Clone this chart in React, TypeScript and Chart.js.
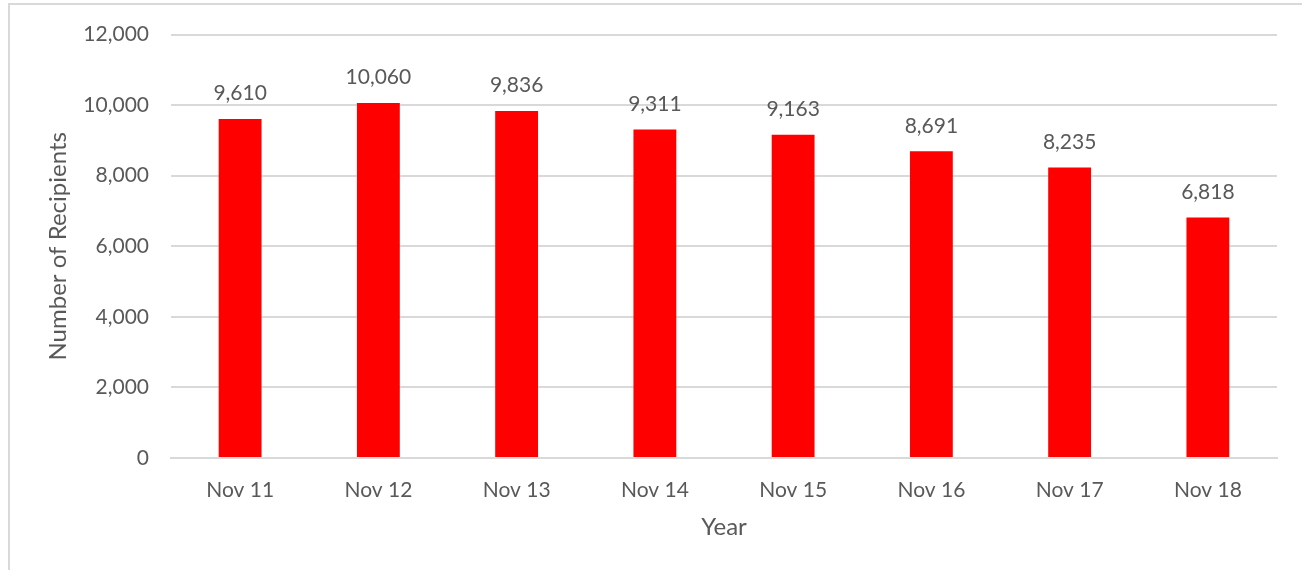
import React, { useEffect, useRef } from "react";
import { Chart, registerables } from "chart.js";

Chart.register(...registerables);

const categories = ["Nov 11", "Nov 12", "Nov 13", "Nov 14", "Nov 15", "Nov 16", "Nov 17", "Nov 18"];
const recipients = [9610, 10060, 9836, 9311, 9163, 8691, 8235, 6818];
const yTicks = [0, 2000, 4000, 6000, 8000, 10000, 12000];

const FONT = "Lato, 'Open Sans', sans-serif";
const TEXT = "#595959";
const GRID = "#d9d9d9";

const fmt = (v: number) => v.toLocaleString("en-US");

const valueLabels = {
  id: "valueLabels",
  afterDatasetsDraw(chart: any) {
    const ctx = chart.ctx;
    const meta = chart.getDatasetMeta(0);
    ctx.save();
    ctx.fillStyle = TEXT;
    ctx.font = `21px ${FONT}`;
    ctx.textAlign = "center";
    ctx.textBaseline = "bottom";
    meta.data.forEach((bar: any, i: number) => {
      ctx.fillText(fmt(recipients[i]), bar.x, bar.y - 15);
    });
    ctx.restore();
  },
};

export default function App() {
  const ref = useRef<HTMLCanvasElement | null>(null);
  useEffect(() => {
    if (!ref.current) return;
    const chart = new Chart(ref.current, {
      type: "bar",
      data: {
        labels: categories,
        datasets: [
          {
            data: recipients,
            backgroundColor: "#ff0000",
            borderWidth: 0,
            barPercentage: 0.62,
            categoryPercentage: 0.5,
          },
        ],
      },
      options: {
        animation: false,
        responsive: false,
        maintainAspectRatio: false,
        layout: { padding: { left: 40, right: 25, top: 32, bottom: 24 } },
        plugins: { legend: { display: false }, tooltip: { enabled: false } },
        scales: {
          x: {
            grid: { display: false, drawTicks: false },
            border: { display: true, color: GRID, width: 2 },
            ticks: { color: TEXT, font: { family: FONT, size: 21 }, padding: 20 },
            title: { display: true, text: "Year", color: TEXT, font: { family: FONT, size: 24 }, padding: { top: 4, bottom: 4 } },
            afterFit: (s: any) => { s.height = 88; },
          },
          y: {
            min: 0,
            max: 12000,
            afterBuildTicks: (s: any) => { s.ticks = yTicks.map((v) => ({ value: v })); },
            grid: { color: GRID, lineWidth: 2, drawTicks: false },
            border: { display: false },
            ticks: { color: TEXT, font: { family: FONT, size: 21 }, padding: 22, callback: (v: any) => fmt(Number(v)) },
            title: { display: true, text: "Number of Recipients", color: TEXT, font: { family: FONT, size: 24 }, padding: { top: 4, bottom: 0 } },
            afterFit: (s: any) => { s.width = 131; },
          },
        },
      },
      plugins: [valueLabels],
    });
    return () => chart.destroy();
  }, []);
  return (
    <div style={{ position: "fixed", left: 0, top: 0, width: 1302, height: 570, background: "#fff", overflow: "hidden" }}>
      <div style={{ position: "absolute", left: 8, top: 3, width: 1400, height: 700, borderLeft: `2px solid ${GRID}`, borderTop: `2px solid ${GRID}` }} />
      <canvas ref={ref} width={1302} height={570} style={{ position: "absolute", left: 0, top: 0 }} />
    </div>
  );
}
